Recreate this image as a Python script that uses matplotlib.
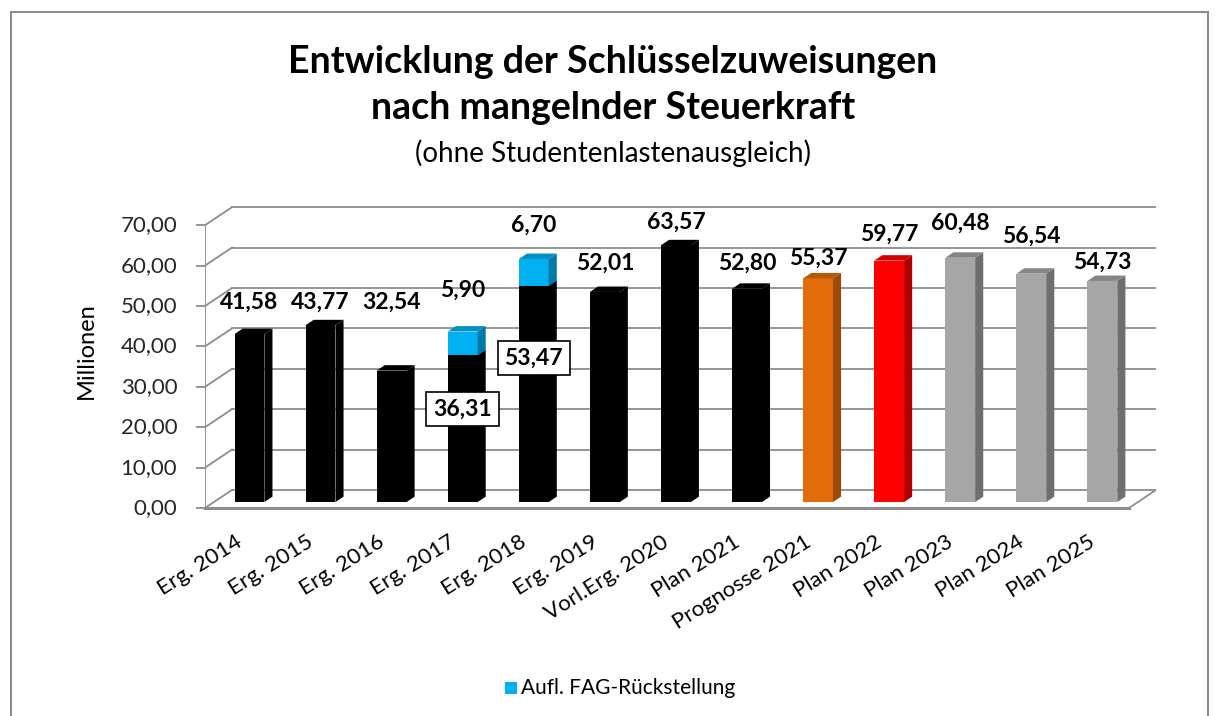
import matplotlib
matplotlib.use("Agg")
import matplotlib.pyplot as plt
from matplotlib.patches import Polygon, Rectangle

plt.rcParams['font.family'] = ['Lato', 'DejaVu Sans']

# ---------------- data ----------------
categories = ["Erg. 2014", "Erg. 2015", "Erg. 2016", "Erg. 2017", "Erg. 2018",
              "Erg. 2019", "Vorl.Erg. 2020", "Plan 2021", "Prognosse 2021",
              "Plan 2022", "Plan 2023", "Plan 2024", "Plan 2025"]
base_values = [41.58, 43.77, 32.54, 36.31, 53.47, 52.01, 63.57, 52.80, 55.37,
               59.77, 60.48, 56.54, 54.73]
fag_values = [0, 0, 0, 5.90, 6.70, 0, 0, 0, 0, 0, 0, 0, 0]
legend_label = "Aufl. FAG-Rückstellung"
y_ticks = [0, 10, 20, 30, 40, 50, 60, 70]

# ---------------- styling / layout ----------------
bar_colors = ["#000000"] * 8 + ["#E36C0A", "#FF0000", "#A6A6A6", "#A6A6A6", "#A6A6A6"]
side_colors = ["#000000"] * 8 + ["#9C4A06", "#B00000", "#6E6E6E", "#6E6E6E", "#6E6E6E"]
top_colors = ["#000000"] * 8 + ["#B85808", "#D00000", "#858585", "#858585", "#858585"]
fag_color, fag_side, fag_top = "#00B0F0", "#0079A8", "#0090C8"
grid_color = "#8C8C8C"

# label heights above bar tops (value units), as placed in the original
label_lift = [9.4, 7.2, 18.5, 11.8, 9.9, 8.6, 7.2, 7.8, 6.5, 8.1, 10.1, 10.8, 6.2]
box_y = {3: 24.5, 4: 37.1}

DX, DY = 0.38, 4.46      # depth offset (axis units)
D0, DD = 0.33, 0.30      # bar depth start / depth extent (fraction)
W = 0.42                 # bar width

W_PX, H_PX = 1220, 716
fig = plt.figure(figsize=(W_PX / 100, H_PX / 100), dpi=100)

# outer border
fig.patches.append(Rectangle((10.5 / W_PX, -0.05), (1208 - 10.5) / W_PX, 1.05 - 12.5 / H_PX,
                             transform=fig.transFigure, fill=False, edgecolor="#8C8C8C",
                             linewidth=1.5))

ax_left, ax_right, ax_bottom, ax_top = 205, 1156, 508, 184.8
ax = fig.add_axes([ax_left / W_PX, (H_PX - ax_bottom) / H_PX,
                   (ax_right - ax_left) / W_PX, (ax_bottom - ax_top) / H_PX])
n = len(categories)
x0, x1 = -0.5, n - 0.5
ax.set_xlim(x0, x1 + DX)
ax.set_ylim(0, 80)
ax.axis("off")

# back wall gridlines, left wall diagonals, axis
for v in y_ticks:
    ax.plot([x0 + DX, x1 + DX], [v + DY, v + DY], color=grid_color, lw=1.3, zorder=1)
    ax.plot([x0, x0 + DX], [v, v + DY], color=grid_color, lw=1.3, zorder=1)
    ax.plot([x0 - 0.11, x0], [v, v], color=grid_color, lw=1.3, zorder=1, clip_on=False)
    ax.text(x0 - 0.39, v, f"{v:.2f}".replace(".", ","), ha="right", va="center",
            fontsize=16, color="#262626")
ax.plot([x0, x0], [0, y_ticks[-1]], color=grid_color, lw=1.3, zorder=1)
# floor
ax.plot([x0, x1], [0, 0], color=grid_color, lw=2.2, zorder=1, clip_on=False)
ax.plot([x1, x1 + DX], [0, DY], color=grid_color, lw=1.3, zorder=1)


def box3d(xc, bottom, height, face, side, top, z):
    xl = xc - W / 2
    xr = xc + W / 2
    ax.bar(xc, height, bottom=bottom, width=W, color=face, edgecolor="none", zorder=z)
    ddx, ddy = DD * DX, DD * DY
    t = bottom + height
    ax.add_patch(Polygon([(xr, bottom), (xr + ddx, bottom + ddy), (xr + ddx, t + ddy), (xr, t)],
                         closed=True, facecolor=side, edgecolor="none", zorder=z))
    ax.add_patch(Polygon([(xl, t), (xr, t), (xr + ddx, t + ddy), (xl + ddx, t + ddy)],
                         closed=True, facecolor=top, edgecolor="none", zorder=z))


for i in range(n):
    xc = i + D0 * DX
    b0 = D0 * DY
    z = 3 + i * 0.01
    box3d(xc, b0, base_values[i], bar_colors[i], side_colors[i], top_colors[i], z)
    total = base_values[i]
    if fag_values[i] > 0:
        box3d(xc, b0 + base_values[i], fag_values[i], fag_color, fag_side, fag_top, z + 0.001)
        total += fag_values[i]
        ax.text(xc, box_y[i], f"{base_values[i]:.2f}".replace(".", ","), ha="center", va="center",
                fontsize=16.5, fontweight="bold", color="#000000", zorder=10,
                bbox=dict(boxstyle="square,pad=0.3", facecolor="white", edgecolor="black", lw=1.2))
        lbl = fag_values[i]
    else:
        lbl = base_values[i]
    ax.text(xc, total + label_lift[i], f"{lbl:.2f}".replace(".", ","), ha="center", va="center",
            fontsize=16.5, fontweight="bold", color="#000000", zorder=10)
    # category label
    ax.text(i + 0.0, -8.0, categories[i], rotation=32, rotation_mode="anchor",
            ha="right", va="center", fontsize=16, color="#000000")

ax.text(x0 - 1.67, 38.9, "Millionen", rotation=90, ha="center", va="center", fontsize=17,
        color="#000000")

# titles
fig.text(613 / W_PX, 1 - 62 / H_PX, "Entwicklung der Schlüsselzuweisungen", ha="center",
         va="center", fontsize=27, fontweight="bold")
fig.text(613 / W_PX, 1 - 108 / H_PX, "nach mangelnder Steuerkraft", ha="center",
         va="center", fontsize=27, fontweight="bold")
fig.text(613 / W_PX, 1 - 153 / H_PX, "(ohne Studentenlastenausgleich)", ha="center",
         va="center", fontsize=20)

# legend
fig.patches.append(Rectangle((505 / W_PX, 1 - 694 / H_PX), 12 / W_PX, 12 / H_PX,
                             transform=fig.transFigure, facecolor=fag_color, edgecolor="none"))
fig.text(521 / W_PX, 1 - 688 / H_PX, legend_label, ha="left", va="center", fontsize=15)

fig.savefig("out.png", dpi=100)
